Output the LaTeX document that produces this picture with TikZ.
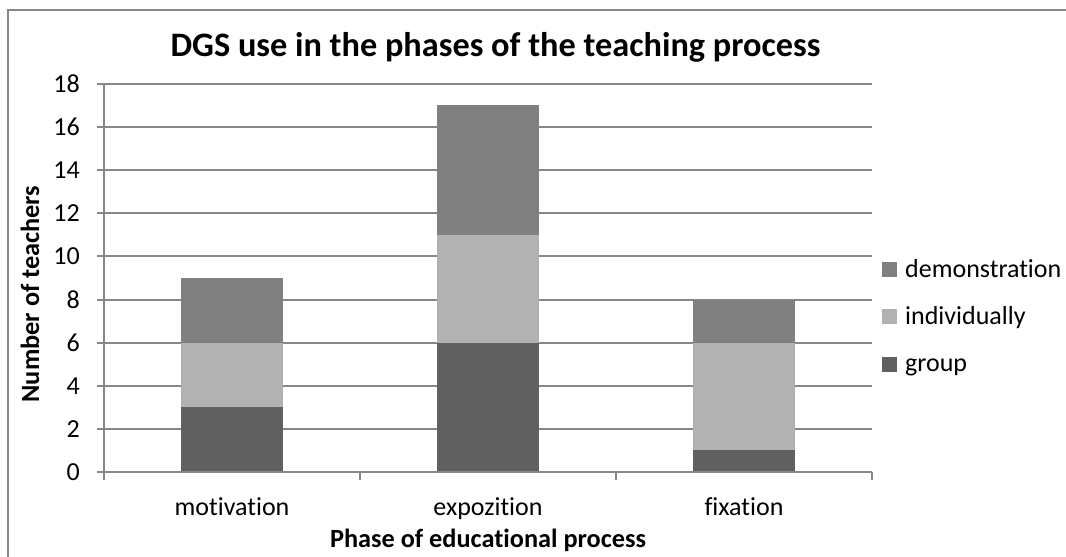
\documentclass[tikz,border=0pt]{standalone}
\usepackage{fontspec}
\setmainfont{Carlito}[Ligatures=NoCommon]
\definecolor{demo}{HTML}{808080}
\definecolor{indiv}{HTML}{B2B2B2}
\definecolor{grp}{HTML}{606060}
\definecolor{rule}{HTML}{878787}
\begin{document}
\begin{tikzpicture}[x=1pt, y=-1pt,
  grid/.style={draw=rule, line width=2pt},
  bar/.style={anchor=south, minimum width=102pt, inner sep=0pt, outer sep=0pt},
  lbl/.style={font=\fontsize{26}{30}\selectfont, inner sep=0pt},
  key/.style={minimum size=15pt, inner sep=0pt, outer sep=0pt}]
\useasboundingbox (0,0) rectangle (1066,557);

% Frame
\draw[grid] (8,557) -- (8,10) -- (1066,10);

% Title
\node[lbl, anchor=base, font=\fontsize{34.3}{40}\selectfont\bfseries] (title) at (495.5,56)
  {DGS use in the phases of the teaching process};

% Grid and y axis
\foreach \v in {2,4,...,18}
  \draw[grid] (104,{472-21.56*\v}) -- (872,{472-21.56*\v});
\foreach \v in {0,2,...,18} {
  \draw[grid] (97,{472-21.56*\v}) -- (104,{472-21.56*\v});
  \node[lbl, anchor=east] (y\v) at (80,{472-21.56*\v}) {\v};
}
\node[lbl, rotate=90, font=\fontsize{26.3}{30}\selectfont\bfseries] (ylabel) at (30,294) {Number of teachers};

% Bars
\node[bar, fill=grp, minimum height=3*21.56pt] (mot-g) at (232,472) {};
\node[bar, fill=indiv, minimum height=3*21.56pt] (mot-i) at (mot-g.north) {};
\node[bar, fill=demo, minimum height=3*21.56pt] (mot-d) at (mot-i.north) {};

\node[bar, fill=grp, minimum height=6*21.56pt] (exp-g) at (488,472) {};
\node[bar, fill=indiv, minimum height=5*21.56pt] (exp-i) at (exp-g.north) {};
\node[bar, fill=demo, minimum height=6*21.56pt] (exp-d) at (exp-i.north) {};

\node[bar, fill=grp, minimum height=1*21.56pt] (fix-g) at (744,472) {};
\node[bar, fill=indiv, minimum height=5*21.56pt] (fix-i) at (fix-g.north) {};
\node[bar, fill=demo, minimum height=2*21.56pt] (fix-d) at (fix-i.north) {};

% x axis
\draw[grid] (104,84) -- (104,472) -- (872,472);
\foreach \x in {104,360,616,872}
  \draw[grid] (\x,472) -- (\x,480);
\node[lbl, anchor=base] (motivation) at (232,515) {motivation};
\node[lbl, anchor=base] (expozition) at (488,515) {expozition};
\node[lbl, anchor=base] (fixation) at (744,515) {fixation};
\node[lbl, anchor=base, font=\fontsize{26.3}{30}\selectfont\bfseries] (xlabel) at (488,547)
  {Phase of educational process};

% Legend
\node[key, fill=demo] (key-d) at (889.5,269.5) {};
\node[key, fill=indiv] (key-i) at (889.5,316.5) {};
\node[key, fill=grp] (key-g) at (889.5,364) {};
\node[lbl, anchor=base west] (leg-d) at (905,277) {demonstration};
\node[lbl, anchor=base west] (leg-i) at (905,324) {individually};
\node[lbl, anchor=base west] (leg-g) at (905,371.5) {group};

\end{tikzpicture}
\end{document}
